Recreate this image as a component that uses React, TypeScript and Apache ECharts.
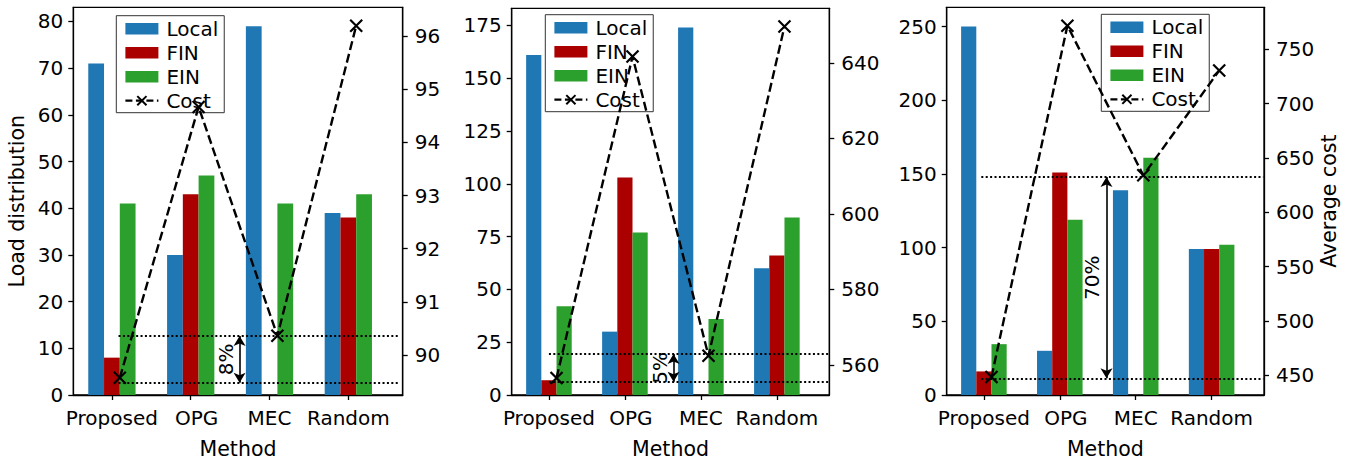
import React, { useEffect, useRef } from 'react';
import * as echarts from 'echarts';

// ---------- data ----------
const methods = ['Proposed', 'OPG', 'MEC', 'Random'];
const methodTicks = [0, 1, 2, 3];
const barNames = ['Local', 'FIN', 'EIN'];
const barColors = ['#1f77b4', '#aa0000', '#2ca02c'];
const barOffsets = [-0.2, 0, 0.2];
const costOffset = 0.1;

// panel 1
const local1 = [71, 30, 79, 39];
const fin1 = [8, 43, 0, 38];
const ein1 = [41, 47, 41, 43];
const cost1 = [89.57, 94.67, 90.36, 96.2];
const ref1 = [89.475, 90.358];
const pct1 = '8%';
const loadTicks1 = [0, 10, 20, 30, 40, 50, 60, 70, 80];
const costTicks1 = [90, 91, 92, 93, 94, 95, 96];

// panel 2
const local2 = [161, 30, 174, 60];
const fin2 = [7, 103, 0, 66];
const ein2 = [42, 77, 36, 84];
const cost2 = [556.5, 641.7, 562.4, 649.7];
const ref2 = [555.5, 562.87];
const pct2 = '5%';
const loadTicks2 = [0, 25, 50, 75, 100, 125, 150, 175];
const costTicks2 = [560, 580, 600, 620, 640];

// panel 3
const local3 = [250, 30, 139, 99];
const fin3 = [16, 151, 0, 99];
const ein3 = [34.5, 119, 161, 102];
const cost3 = [448.5, 771.7, 634, 730.4];
const ref3 = [447.3, 632.4];
const pct3 = '70%';
const loadTicks3 = [0, 50, 100, 150, 200, 250];
const costTicks3 = [450, 500, 550, 600, 650, 700, 750];

// ---------- layout / style ----------
const FONT = 'DejaVu Sans';
const X_MIN = -0.49;
const X_MAX = 3.69;
const X_SYMBOL = 'path://M0,0L10,10M10,0L0,10';

const panels = [
  {
    bars: [local1, fin1, ein1], cost: cost1, ref: ref1, pct: pct1,
    loadTicks: loadTicks1, costTicks: costTicks1,
    loadMax: 83.04, costMin: 89.245, costMax: 96.546,
    grid: { left: 73.3, top: 7.3, width: 329.4, height: 393.4 },
    legend: { left: 116.3, top: 15.7 },
    refX: [0.084, 3.64], arrowX: 1.62,
    leftName: 'Load distribution', rightName: '',
  },
  {
    bars: [local2, fin2, ein2], cost: cost2, ref: ref2, pct: pct2,
    loadTicks: loadTicks2, costTicks: costTicks2,
    loadMax: 183.1, costMin: 552.0, costMax: 654.5,
    grid: { left: 511.7, top: 8.3, width: 317.6, height: 393.4 },
    legend: { left: 545.3, top: 14.7 },
    refX: [0.0, 3.68], arrowX: 1.64,
    leftName: '', rightName: '',
  },
  {
    bars: [local3, fin3, ein3], cost: cost3, ref: ref3, pct: pct3,
    loadTicks: loadTicks3, costTicks: costTicks3,
    loadMax: 263.1, costMin: 431.9, costMax: 788.6,
    grid: { left: 946.7, top: 7.3, width: 317.3, height: 394.4 },
    legend: { left: 1101.3, top: 14.3 },
    refX: [-0.034, 3.68], arrowX: 1.615,
    leftName: '', rightName: 'Average cost',
  },
];

const tickLabel = { fontSize: 20, color: '#000', fontFamily: FONT };
const nameStyle = { fontSize: 20.5, color: '#000', fontFamily: FONT };
const axisLineStyle = { color: '#000', width: 1.3 };

function buildOption() {
  const grid: any[] = [];
  const xAxis: any[] = [];
  const yAxis: any[] = [];
  const series: any[] = [];
  const legend: any[] = [];

  panels.forEach((p, i) => {
    grid.push({
      ...p.grid,
      show: true,
      borderColor: '#000',
      borderWidth: 1.3,
      backgroundColor: 'transparent',
      containLabel: false,
    });
    xAxis.push({
      type: 'value',
      gridIndex: i,
      min: X_MIN,
      max: X_MAX,
      name: 'Method',
      nameLocation: 'middle',
      nameGap: 43,
      nameTextStyle: nameStyle,
      axisLine: { show: true, onZero: false, lineStyle: axisLineStyle },
      axisTick: { show: true, customValues: methodTicks, length: 5, lineStyle: axisLineStyle },
      axisLabel: {
        ...tickLabel,
        customValues: methodTicks,
        margin: 13,
        formatter: (v: number) => {
          const k = Math.round(v);
          return k === 1 ? '{shift|' + methods[k] + '}' : methods[k];
        },
        rich: { shift: { ...tickLabel, padding: [0, 0, 0, 12] } },
      },
      splitLine: { show: false },
    });
    yAxis.push({
      type: 'value',
      gridIndex: i,
      position: 'left',
      min: 0,
      max: p.loadMax,
      name: p.leftName,
      nameLocation: 'middle',
      nameGap: 46,
      nameRotate: 90,
      nameTextStyle: nameStyle,
      axisLine: { show: true, onZero: false, lineStyle: axisLineStyle },
      axisTick: { show: true, customValues: p.loadTicks, length: 5, lineStyle: axisLineStyle },
      axisLabel: { ...tickLabel, customValues: p.loadTicks, margin: 10 },
      splitLine: { show: false },
    });
    yAxis.push({
      type: 'value',
      gridIndex: i,
      position: 'right',
      min: p.costMin,
      max: p.costMax,
      name: p.rightName,
      nameLocation: 'middle',
      nameGap: 53,
      nameRotate: 90,
      nameTextStyle: nameStyle,
      axisLine: { show: true, onZero: false, lineStyle: axisLineStyle },
      axisTick: { show: true, customValues: p.costTicks, length: 5, lineStyle: axisLineStyle },
      axisLabel: { ...tickLabel, customValues: p.costTicks, margin: 12 },
      splitLine: { show: false },
    });

    const barPx = (p.grid.width * 0.2) / (X_MAX - X_MIN);
    p.bars.forEach((vals, k) => {
      series.push({
        type: 'bar',
        name: barNames[k],
        xAxisIndex: i,
        yAxisIndex: 2 * i,
        data: vals.map((v, j) => [j + barOffsets[k], v]),
        barWidth: barPx,
        barGap: '-100%',
        itemStyle: { color: barColors[k] },
        z: 2,
      });
    });

    const [lo, hi] = p.ref;
    series.push({
      type: 'line',
      name: 'Cost',
      xAxisIndex: i,
      yAxisIndex: 2 * i + 1,
      data: p.cost.map((v, j) => [j + costOffset, v]),
      symbol: X_SYMBOL,
      symbolSize: 12,
      showAllSymbol: true,
      lineStyle: { color: '#000', width: 2.4, type: [9, 4] },
      itemStyle: { color: '#000', borderColor: '#000', borderWidth: 2.2 },
      z: 3,
      markLine: {
        silent: true,
        symbol: 'none',
        label: { show: false },
        lineStyle: { color: '#000', width: 2, type: [2, 2.4] },
        data: [
          [{ coord: [p.refX[0], lo] }, { coord: [p.refX[1], lo] }],
          [{ coord: [p.refX[0], hi] }, { coord: [p.refX[1], hi] }],
          [
            {
              coord: [p.arrowX, lo],
              symbol: 'arrow',
              symbolSize: [9, 10],
              lineStyle: { type: 'solid', width: 1.6, color: '#000' },
              label: {
                show: true,
                formatter: p.pct,
                position: 'insideMiddleTop',
                distance: 4,
                fontSize: 20,
                color: '#000',
                fontFamily: FONT,
              },
            },
            { coord: [p.arrowX, hi], symbol: 'arrow', symbolSize: [9, 10] },
          ],
        ],
      },
    });

    legend.push({
      left: p.legend.left,
      top: p.legend.top,
      orient: 'vertical',
      itemWidth: 33,
      itemHeight: 11.5,
      itemGap: 4,
      padding: [3, 6, 2, 8],
      borderColor: '#333',
      borderWidth: 1,
      borderRadius: 0,
      backgroundColor: '#fff',
      selectedMode: false,
      z: 1,
      textStyle: { fontSize: 20, color: '#000', fontFamily: FONT, padding: [0, 0, 0, 3] },
      data: [
        { name: 'Local', icon: 'rect' },
        { name: 'FIN', icon: 'rect' },
        { name: 'EIN', icon: 'rect' },
        {
          name: 'Cost',
          itemStyle: { color: '#000', borderColor: '#000', borderWidth: 2 },
          lineStyle: { color: '#000', width: 2.2, type: [7, 3.5] },
        },
      ],
    });
  });

  return {
    animation: false,
    backgroundColor: '#fff',
    textStyle: { fontFamily: FONT },
    grid,
    xAxis,
    yAxis,
    series,
    legend,
  };
}

export default function App() {
  const ref = useRef<HTMLDivElement>(null);
  useEffect(() => {
    if (!ref.current) return;
    const chart = echarts.init(ref.current, null, { renderer: 'svg' });
    chart.setOption(buildOption() as any);
    return () => chart.dispose();
  }, []);
  return (
    <div
      ref={ref}
      style={{ position: 'absolute', left: 0, top: 0, width: 1351, height: 464, background: '#fff' }}
    />
  );
}
